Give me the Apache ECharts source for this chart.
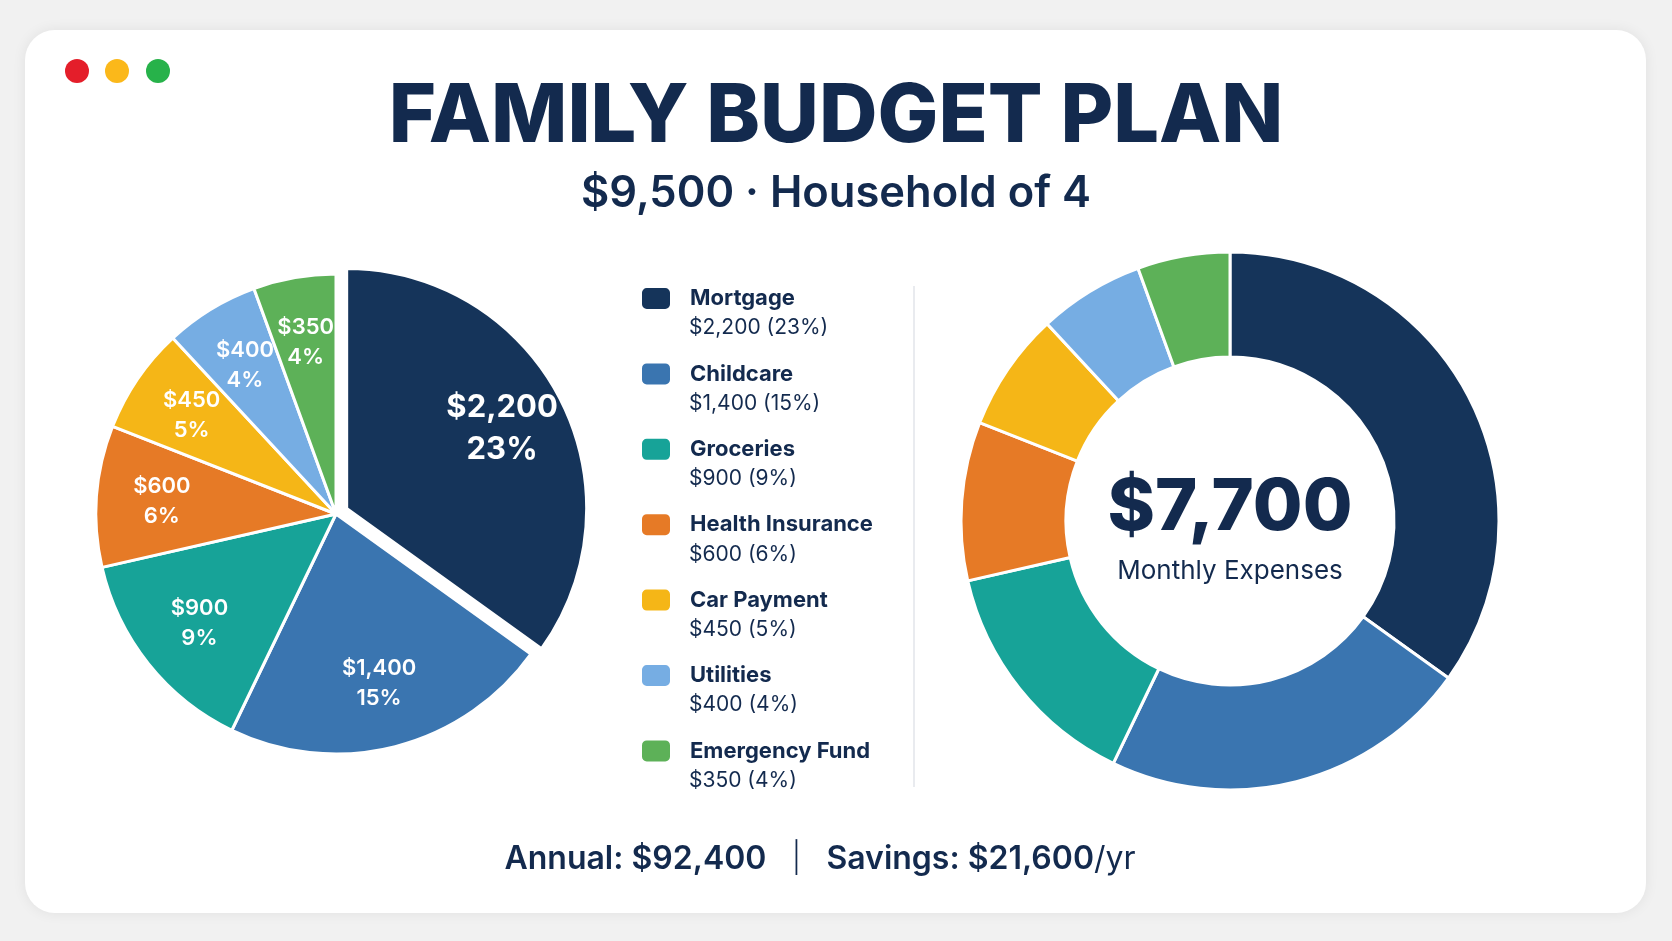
<!DOCTYPE html>
<html>
<head>
<meta charset="utf-8">
<title>Family Budget Plan</title>
<script src="https://cdn.jsdelivr.net/npm/echarts@6/dist/echarts.min.js"></script>
<style>
  html, body { margin: 0; padding: 0; background: #f1f1f1; }
  #main { width: 1672px; height: 941px; }
</style>
</head>
<body>
<div id="main"></div>
<script>
// data
var categories = ['Mortgage', 'Childcare', 'Groceries', 'Health Insurance', 'Car Payment', 'Utilities', 'Emergency Fund'];
var amounts = [2200, 1400, 900, 600, 450, 400, 350];
var colors = ['#15345a', '#3a75b0', '#17a398', '#e67a26', '#f5b617', '#76ade3', '#5db158'];
var monthlyIncome = 9500;
var monthlyExpenses = 7700;
var householdSize = 4;

var ink = '#132a4e';
var font = 'Inter, "Noto Sans", sans-serif';
var pieCenter = [336, 514];

function money(v) {
    return '$' + v.toLocaleString('en-US');
}
function pct(v) {
    return Math.round(v / monthlyIncome * 100) + '%';
}

var lookup = {};
categories.forEach(function (c, i) { lookup[c] = amounts[i]; });

var pieData = categories.map(function (c, i) {
    var item = { name: c, value: amounts[i], itemStyle: { color: colors[i] } };
    if (i === 0) {
        item.selected = true;
        item.label = { fontSize: 31, lineHeight: 42, fontWeight: 700 };
    }
    return item;
});
var ringData = categories.map(function (c, i) {
    return { name: c, value: amounts[i], itemStyle: { color: colors[i] } };
});

var annual = monthlyExpenses * 12;
var savings = (monthlyIncome - monthlyExpenses) * 12;

var chart = echarts.init(document.getElementById('main'));

var option = {
    backgroundColor: '#f1f1f1',
    animation: false,
    graphic: [
        {
            type: 'rect', z: -10,
            shape: { x: 25, y: 30, width: 1621, height: 883, r: 30 },
            style: { fill: '#ffffff', shadowBlur: 14, shadowColor: 'rgba(0,0,0,0.07)' }
        },
        { type: 'circle', shape: { cx: 77, cy: 71, r: 12 }, style: { fill: '#e41e2a' } },
        { type: 'circle', shape: { cx: 117, cy: 71, r: 12 }, style: { fill: '#fbb81a' } },
        { type: 'circle', shape: { cx: 158, cy: 71, r: 12 }, style: { fill: '#27b24a' } },
        {
            type: 'text', x: 836, y: 118,
            style: {
                text: 'FAMILY BUDGET PLAN', align: 'center', verticalAlign: 'middle',
                font: '800 81px ' + font, fill: ink
            }
        },
        {
            type: 'text', x: 836, y: 194,
            style: {
                text: money(monthlyIncome) + ' \u00b7 Household of ' + householdSize,
                align: 'center', verticalAlign: 'middle',
                font: '600 43.5px ' + font, fill: ink
            }
        },
        {
            type: 'line',
            shape: { x1: 914, y1: 286, x2: 914, y2: 787 },
            style: { stroke: '#e2e5ea', lineWidth: 1.5 }
        },
        {
            type: 'text', x: 1230, y: 508,
            style: {
                text: money(monthlyExpenses), align: 'center', verticalAlign: 'middle',
                font: '800 72px ' + font, fill: ink
            }
        },
        {
            type: 'text', x: 1230, y: 571,
            style: {
                text: 'Monthly Expenses', align: 'center', verticalAlign: 'middle',
                font: '400 26px ' + font, fill: ink
            }
        },
        {
            type: 'text', x: 820, y: 859,
            style: {
                text: '{b|Annual: ' + money(annual) + '}{s|   |   }{b|Savings: ' + money(savings) + '}{r|/yr}',
                align: 'center', verticalAlign: 'middle',
                rich: {
                    b: { font: '600 32px ' + font, fill: ink },
                    s: { font: '300 30px ' + font, fill: ink },
                    r: { font: '400 32px ' + font, fill: ink }
                }
            }
        }
    ],
    legend: [
        {
            orient: 'vertical', left: 635, top: 281,
            data: categories,
            icon: 'roundRect', itemWidth: 30, itemHeight: 23, itemGap: 50.4,
            selectedMode: false,
            textStyle: {
                fontFamily: font, fontSize: 22, fontWeight: 700, color: ink,
                lineHeight: 24, padding: [0, 0, 0, 14]
            }
        },
        {
            orient: 'vertical', left: 635, top: 311,
            data: categories,
            icon: 'rect', itemWidth: 30, itemHeight: 23, itemGap: 51.4,
            selectedMode: false,
            itemStyle: { color: 'rgba(0,0,0,0)', borderWidth: 0 },
            formatter: function (name) {
                return money(lookup[name]) + ' (' + pct(lookup[name]) + ')';
            },
            textStyle: {
                fontFamily: font, fontSize: 21, fontWeight: 400, color: ink,
                lineHeight: 24, padding: [0, 0, 0, 14]
            }
        }
    ],
    series: [
        {
            name: 'Budget',
            type: 'pie',
            center: pieCenter,
            radius: [0, 240],
            startAngle: 90,
            clockwise: true,
            selectedMode: 'single',
            selectedOffset: 12,
            itemStyle: { borderColor: '#ffffff', borderWidth: 3 },
            label: {
                show: true,
                position: 'inside',
                color: '#ffffff',
                fontFamily: font,
                fontSize: 22,
                fontWeight: 600,
                lineHeight: 30,
                formatter: function (p) {
                    return money(p.value) + '\n' + pct(p.value);
                }
            },
            labelLayout: function (p) {
                var r = p.labelRect;
                var cx = r.x + r.width / 2;
                var cy = r.y + r.height / 2;
                return { dx: (cx - pieCenter[0]) * 0.42, dy: (cy - pieCenter[1]) * 0.42 };
            },
            emphasis: { disabled: true },
            data: pieData
        },
        {
            name: 'Expenses',
            type: 'pie',
            center: [1230, 521],
            radius: [164, 269],
            startAngle: 90,
            clockwise: true,
            itemStyle: { borderColor: '#ffffff', borderWidth: 3 },
            label: { show: false },
            labelLine: { show: false },
            emphasis: { disabled: true },
            data: ringData
        }
    ]
};

chart.setOption(option);
</script>
</body>
</html>
